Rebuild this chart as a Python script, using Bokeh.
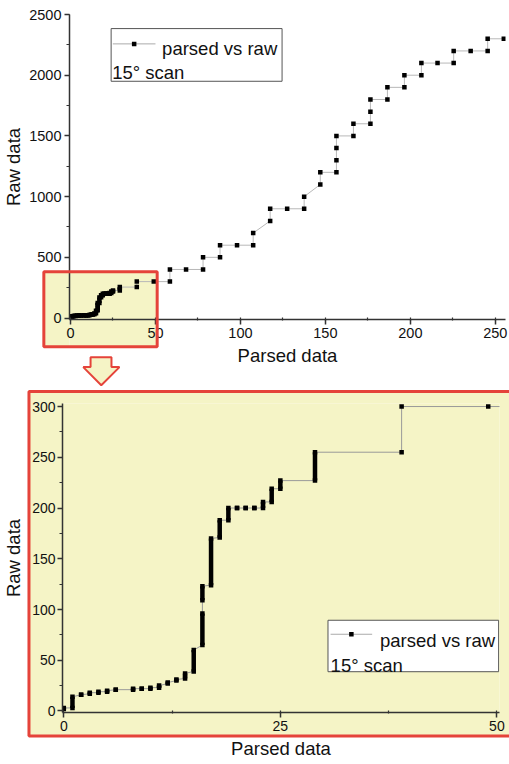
from bokeh.plotting import figure
from bokeh.layouts import column
from bokeh.models import BoxAnnotation, Label, Range1d, SingleIntervalTicker
from bokeh.embed import file_html
from bokeh.resources import INLINE

# ---------------- data ----------------
# dense part: at one parsed value many consecutive raw values -> vertical runs
bar_parsed = [0, 1, 2, 3, 4, 5, 6, 8, 9, 10, 11, 12, 13, 14, 15, 16, 16, 17, 18, 19, 20, 21, 22, 23, 24, 25, 29]
bar_raw_lo = [2, 3, 16, 17, 18, 19, 21, 21, 22, 22, 23, 27, 30, 32, 39, 65, 109, 124, 171, 188, 200, 200, 200, 200, 206, 219, 227]
bar_raw_hi = [3, 14, 16, 18, 19, 20, 21, 22, 22, 23, 25, 28, 31, 37, 60, 96, 123, 170, 188, 200, 200, 200, 200, 206, 219, 227, 255]
# sparse part: single points
pt_parsed = [39, 39, 49, 58.5, 58.5, 68, 78, 78, 88, 88, 98, 107.5, 107.5, 117.5, 117.5, 127.5, 137.5, 137.5,
             147, 147, 156.5, 156.5, 156.5, 156.5, 166.5, 166.5, 176.5, 176.5, 176.5, 186.5, 186.5, 196.5, 196.5,
             206.5, 206.5, 216, 225.5, 225.5, 235.5, 245.5, 245.5, 255]
pt_raw = [255, 300, 300, 300, 400, 400, 400, 500, 500, 600, 600, 600, 700, 800, 900, 900, 900, 1000,
          1100, 1200, 1200, 1300, 1400, 1500, 1500, 1600, 1600, 1700, 1800, 1800, 1900, 1900, 2000,
          2000, 2100, 2100, 2100, 2200, 2200, 2200, 2300, 2300]

series_label = "parsed vs raw"
note_label = "15\u00b0 scan"
x_title = "Parsed data"
y_title = "Raw data"

YELLOW = "#f5f4c6"
RED = "#e5433a"
FONT = "Liberation Sans"

# connecting path in data order
path_x, path_y = [], []
for x, lo, hi in zip(bar_parsed, bar_raw_lo, bar_raw_hi):
    path_x += [x, x]
    path_y += [lo, hi]
path_x += pt_parsed
path_y += pt_raw


def draw_data(p, line_color, msize):
    p.line(path_x, path_y, line_color=line_color, line_width=1)
    p.segment(x0=bar_parsed, y0=bar_raw_lo, x1=bar_parsed, y1=bar_raw_hi,
              line_color="black", line_width=msize, line_cap="butt")
    p.scatter(x=bar_parsed + bar_parsed, y=bar_raw_lo + bar_raw_hi, marker="square",
              size=msize, fill_color="black", line_color=None)
    p.scatter(x=pt_parsed, y=pt_raw, marker="square", size=msize,
              fill_color="black", line_color=None)


def style_axis(ax, title, tick_size, xtick, label_standoff, title_standoff):
    ax.level = "annotation"
    ax.axis_label = title
    ax.axis_label_text_font = FONT
    ax.axis_label_text_font_size = "18.5px"
    ax.axis_label_text_font_style = "normal"
    ax.axis_label_text_color = "#111111"
    ax.axis_label_standoff = title_standoff
    ax.major_label_text_font = FONT
    ax.major_label_text_font_size = tick_size
    ax.major_label_text_color = "#111111"
    ax.major_label_standoff = label_standoff
    ax.axis_line_color = "#333333"
    ax.axis_line_width = 1.5
    ax.major_tick_line_color = "#333333"
    ax.major_tick_line_width = 1.5
    ax.minor_tick_line_color = "#333333"
    ax.minor_tick_line_width = 1.2
    ax.major_tick_out = 5
    ax.major_tick_in = 0
    if xtick:
        ax.minor_tick_out = 1
        ax.minor_tick_in = 2
    else:
        ax.minor_tick_out = 3
        ax.minor_tick_in = 0


def fill_box(p, l, r, b, t, color):
    rr = p.quad(left=[l], right=[r], bottom=[b], top=[t], fill_color=color, line_color=None)
    rr.level = "guide"          # under the axes (which are drawn at 'annotation' level)


def red_frame(p, l, r, b, t, lw=3):
    rr = p.quad(left=[l], right=[r], bottom=[b], top=[t], fill_alpha=0, line_color=RED, line_width=lw)
    rr.level = "overlay"


def legend(p, box, line_xy, text1_xy, text2_xy, size):
    p.add_layout(BoxAnnotation(left=box[0], right=box[1], bottom=box[2], top=box[3],
                               fill_color="white", fill_alpha=1, line_color="#555555",
                               line_width=1, line_alpha=1, level="underlay"))
    (lx0, lx1, ly) = line_xy
    p.line([lx0, lx1], [ly, ly], line_color="#aaaaaa", line_width=1)
    p.scatter([(lx0 + lx1) / 2], [ly], marker="square", size=4.5, fill_color="black", line_color=None)
    p.add_layout(Label(x=text1_xy[0], y=text1_xy[1], text=series_label, text_font=FONT,
                       text_font_size=size, text_color="#111111", text_baseline="alphabetic"))
    p.add_layout(Label(x=text2_xy[0], y=text2_xy[1], text=note_label, text_font=FONT,
                       text_font_size=size, text_color="#111111", text_baseline="alphabetic"))


def no_align(p):
    try:
        p.frame_align = False
    except Exception:
        pass


# ---------------- top chart ----------------
p1 = figure(width=509, height=388, x_range=Range1d(-0.6, 256), y_range=Range1d(-12, 2500),
            output_backend="svg", toolbar_location=None,
            min_border_left=69, min_border_right=4, min_border_top=14, min_border_bottom=69)
no_align(p1)
p1.grid.visible = False
p1.outline_line_color = None
p1.xaxis[0].ticker = SingleIntervalTicker(interval=50, num_minor_ticks=2)
p1.yaxis[0].ticker = SingleIntervalTicker(interval=500, num_minor_ticks=2)
style_axis(p1.xaxis[0], x_title, "14.5px", True, 3, 4)
style_axis(p1.yaxis[0], y_title, "14.5px", False, 3, 2)

# highlighted zoom region: inside the frame under the data, strips outside the frame
p1.add_layout(BoxAnnotation(left=-15.7, right=51.0, bottom=-237, top=382, fill_color=YELLOW,
                            fill_alpha=1, line_alpha=0, level="underlay"))
fill_box(p1, -15.7, -0.6, -237, 382, YELLOW)
fill_box(p1, -0.6, 51.0, -237, -12, YELLOW)
red_frame(p1, -15.7, 51.0, -237, 382)
# arrow
arrow = p1.patch([11.8, 24.1, 24.1, 28.8, 18.1, 7.5, 11.8], [-322, -322, -404, -404, -553, -404, -404],
                 fill_color=YELLOW, line_color=RED, line_width=2)
arrow.level = "overlay"

draw_data(p1, "#b8b8b8", 4.5)
legend(p1, (23.9, 124.5, 1950, 2384), (24.9, 50.0, 2258), (53.9, 2217), (24.5, 2019), "18.5px")

# ---------------- bottom chart ----------------
p2 = figure(width=509, height=376, x_range=Range1d(-0.15, 50.3), y_range=Range1d(-1.5, 303),
            output_backend="svg", toolbar_location=None,
            min_border_left=61, min_border_right=10, min_border_top=15, min_border_bottom=52)
no_align(p2)
p2.grid.visible = False
p2.outline_line_color = None
p2.background_fill_color = YELLOW
p2.border_fill_color = YELLOW
p2.xaxis[0].ticker = SingleIntervalTicker(interval=25, num_minor_ticks=2)
p2.yaxis[0].ticker = SingleIntervalTicker(interval=50, num_minor_ticks=2)
style_axis(p2.xaxis[0], x_title, "14px", True, 3, 4)
style_axis(p2.yaxis[0], y_title, "14px", False, 2, 5)

fill_box(p2, -20, -4.02, -100, 400, "white")
fill_box(p2, -20, 60, -100, -24.7, "white")
fill_box(p2, -20, 60, 314.8, 400, "white")
red_frame(p2, -4.02, 52, -24.7, 314.8)

draw_data(p2, "#999999", 4.5)
legend(p2, (30.5, 50.2, 38.7, 89.4), (30.8, 35.6, 75.6), (36.5, 69.7), (30.8, 45), "18.5px")

layout = column(p1, p2, spacing=0)
open("out.html", "w").write(file_html(layout, INLINE))
